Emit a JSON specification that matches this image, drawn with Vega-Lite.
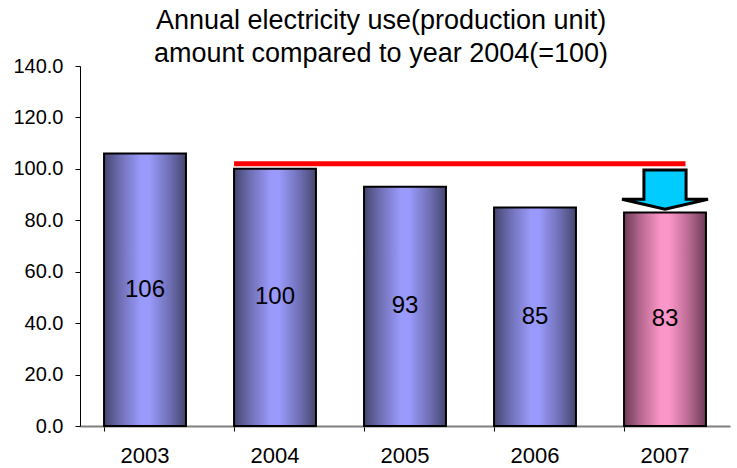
{
  "$schema": "https://vega.github.io/schema/vega-lite/v6.json",
  "width": 650,
  "height": 360,
  "autosize": "none",
  "padding": {"left": 80, "top": 66, "right": 7, "bottom": 42},
  "background": "white",
  "config": {"view": {"stroke": null}, "font": "Liberation Sans"},
  "title": {
    "text": ["Annual electricity use(production unit)", "amount compared to year 2004(=100)"],
    "font": "Liberation Sans",
    "fontSize": 27,
    "fontWeight": "normal",
    "color": "black",
    "anchor": "middle",
    "dx": -24,
    "dy": 20,
    "lineHeight": 33,
    "offset": 8
  },
  "datasets": {
    "bars": [
      {"year": "2003", "value": 106},
      {"year": "2004", "value": 100},
      {"year": "2005", "value": 93},
      {"year": "2006", "value": 85},
      {"year": "2007", "value": 83}
    ],
    "ref": [{"from": "2004", "to": "2007", "level": 102}],
    "arrow": [{"year": "2007", "pos": 92}]
  },
  "encoding": {
    "x": {
      "field": "year", "type": "nominal",
      "scale": {"paddingInner": 0.37, "paddingOuter": 0.185},
      "axis": {
        "title": null, "labelAngle": 0, "labelFontSize": 22, "labelColor": "black",
        "labelPadding": 14, "domainColor": "#808080", "domainWidth": 2,
        "tickColor": "black", "tickSize": 5, "bandPosition": 0
      }
    }
  },
  "layer": [
    {
      "data": {"name": "bars"},
      "transform": [{"filter": "datum.year != '2007'"}],
      "mark": {
        "type": "bar", "stroke": "black", "strokeWidth": 2,
        "fill": {"x1": 0, "x2": 1, "y1": 0, "y2": 0, "gradient": "linear",
          "stops": [
            {"offset": 0, "color": "#46466f"},
            {"offset": 0.2, "color": "#6f6fb5"},
            {"offset": 0.45, "color": "#9a9afc"},
            {"offset": 0.55, "color": "#9a9afc"},
            {"offset": 0.8, "color": "#6f6fb5"},
            {"offset": 1, "color": "#46466f"}
          ]}
      },
      "encoding": {
        "y": {
          "field": "value", "type": "quantitative",
          "scale": {"domain": [0, 140]},
          "axis": {
            "title": null, "values": [0, 20, 40, 60, 80, 100, 120, 140], "format": ".1f",
            "labelFontSize": 20, "labelColor": "black", "labelPadding": 12,
            "domainColor": "black", "tickColor": "black", "tickSize": 5, "grid": false
          }
        }
      }
    },
    {
      "data": {"name": "bars"},
      "transform": [{"filter": "datum.year == '2007'"}],
      "mark": {
        "type": "bar", "stroke": "black", "strokeWidth": 2,
        "fill": {"x1": 0, "x2": 1, "y1": 0, "y2": 0, "gradient": "linear",
          "stops": [
            {"offset": 0, "color": "#6e3a57"},
            {"offset": 0.2, "color": "#b66890"},
            {"offset": 0.45, "color": "#fc96c9"},
            {"offset": 0.55, "color": "#fc96c9"},
            {"offset": 0.8, "color": "#b66890"},
            {"offset": 1, "color": "#6e3a57"}
          ]}
      },
      "encoding": {"y": {"field": "value", "type": "quantitative"}}
    },
    {
      "data": {"name": "bars"},
      "transform": [{"calculate": "datum.value / 2", "as": "mid"}],
      "mark": {"type": "text", "fontSize": 24, "color": "black", "font": "Liberation Sans"},
      "encoding": {
        "y": {"field": "mid", "type": "quantitative"},
        "text": {"field": "value", "type": "quantitative"}
      }
    },
    {
      "data": {"name": "ref"},
      "mark": {"type": "rule", "color": "#ff0000", "strokeWidth": 5},
      "encoding": {
        "x": {"field": "from", "type": "nominal", "bandPosition": 0},
        "x2": {"field": "to", "bandPosition": 0.75},
        "y": {"field": "level", "type": "quantitative"}
      }
    },
    {
      "data": {"name": "arrow"},
      "mark": {
        "type": "point", "filled": true, "fill": "#00ccff", "stroke": "black", "strokeWidth": 3,
        "opacity": 1, "size": 7396,
        "shape": "M -0.49 -0.45 L 0.49 -0.45 L 0.49 0.23 L 1 0.23 L 0 0.46 L -1 0.23 L -0.49 0.23 Z"
      },
      "encoding": {
        "y": {"field": "pos", "type": "quantitative"}
      }
    }
  ]
}
